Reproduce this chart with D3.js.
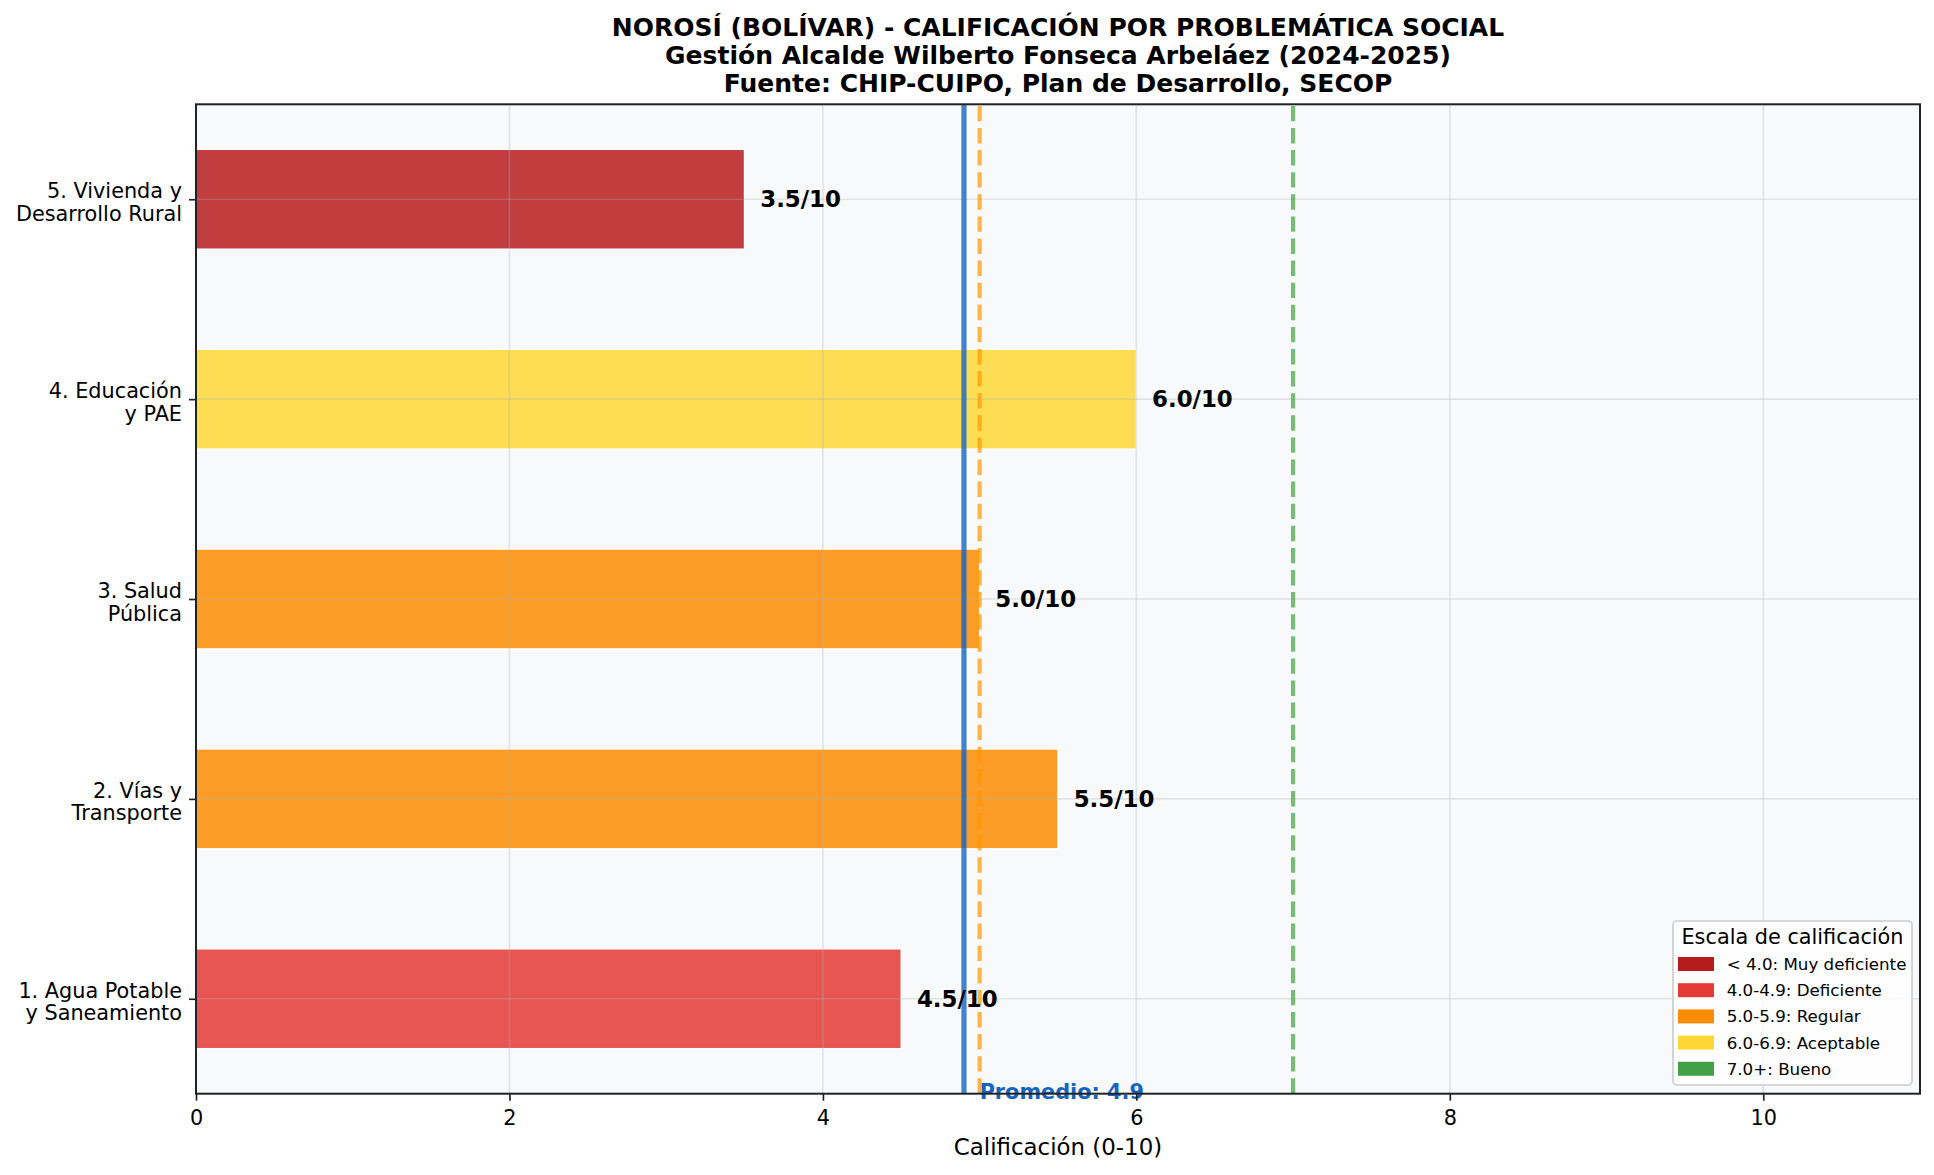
<!DOCTYPE html>
<html>
<head>
<meta charset="utf-8">
<script src="https://cdn.jsdelivr.net/npm/d3@7"></script>
<style>
  html, body { margin: 0; padding: 0; background: #ffffff; }
  svg { display: block; font-family: "DejaVu Sans", sans-serif; }
</style>
</head>
<body>
<svg id="chart" width="1934" height="1175"></svg>
<script>
// ---------------- DATA ----------------
const categories = [
  "1. Agua Potable\ny Saneamiento",
  "2. Vías y\nTransporte",
  "3. Salud\nPública",
  "4. Educación\ny PAE",
  "5. Vivienda y\nDesarrollo Rural"
];
const scores = [4.5, 5.5, 5.0, 6.0, 3.5];
const averageScore = 4.9;
const regularThreshold = 5.0;
const goodThreshold = 7.0;
const xTicks = [0, 2, 4, 6, 8, 10];
const titleLines = [
  "NOROSÍ (BOLÍVAR) - CALIFICACIÓN POR PROBLEMÁTICA SOCIAL",
  "Gestión Alcalde Wilberto Fonseca Arbeláez (2024-2025)",
  "Fuente: CHIP-CUIPO, Plan de Desarrollo, SECOP"
];
const xAxisLabel = "Calificación (0-10)";
const legendTitle = "Escala de calificación";
const legendLabels = ["< 4.0: Muy deficiente", "4.0-4.9: Deficiente", "5.0-5.9: Regular", "6.0-6.9: Aceptable", "7.0+: Bueno"];
const legendColors = ["#b71c1c", "#e53935", "#fb8c00", "#fdd835", "#43a047"];
const scaleBreaks = [4.0, 5.0, 6.0, 7.0];

// ---------------- LAYOUT ----------------
const L = 196, R = 1920, T = 104.3, B = 1093.7;
const svg = d3.select("#chart");
svg.append("rect").attr("width", 1934).attr("height", 1175).attr("fill", "#ffffff");

const x = d3.scaleLinear().domain([0, 11]).range([L, R]);
const y = d3.scaleLinear().domain([-0.475, categories.length - 1 + 0.475]).range([B, T]);
const colorScale = d3.scaleThreshold().domain(scaleBreaks).range(legendColors);
const barH = 0.5;

// axes background
svg.append("rect").attr("x", L).attr("y", T).attr("width", R - L).attr("height", B - T).attr("fill", "#f8f9fa");

// bars
svg.append("g").selectAll("rect").data(scores).join("rect")
  .attr("x", x(0))
  .attr("y", (d, i) => y(i + barH / 2))
  .attr("width", d => x(d) - x(0))
  .attr("height", (d, i) => y(i - barH / 2) - y(i + barH / 2))
  .attr("fill", d => colorScale(d))
  .attr("fill-opacity", 0.85)
  .attr("stroke", "#ffffff")
  .attr("stroke-width", 1.5);

// grid
const grid = svg.append("g");
grid.selectAll("line.gx").data(xTicks).join("line").attr("class", "gx")
  .attr("x1", d => x(d)).attr("x2", d => x(d)).attr("y1", T).attr("y2", B)
  .attr("stroke", "#b0b0b0").attr("stroke-opacity", 0.3).attr("stroke-width", 1.67);
grid.selectAll("line.gy").data(categories).join("line").attr("class", "gy")
  .attr("x1", L).attr("x2", R).attr("y1", (d, i) => y(i)).attr("y2", (d, i) => y(i))
  .attr("stroke", "#b0b0b0").attr("stroke-opacity", 0.3).attr("stroke-width", 1.67);

// reference lines
svg.append("line")
  .attr("x1", x(averageScore)).attr("x2", x(averageScore)).attr("y1", B).attr("y2", T)
  .attr("stroke", "#1565c0").attr("stroke-opacity", 0.8).attr("stroke-width", 5.2);
svg.append("line")
  .attr("x1", x(regularThreshold)).attr("x2", x(regularThreshold)).attr("y1", B).attr("y2", T)
  .attr("stroke", "#ff9800").attr("stroke-opacity", 0.7).attr("stroke-width", 4.2)
  .attr("stroke-dasharray", "15.4,6.7");
svg.append("line")
  .attr("x1", x(goodThreshold)).attr("x2", x(goodThreshold)).attr("y1", B).attr("y2", T)
  .attr("stroke", "#43a047").attr("stroke-opacity", 0.7).attr("stroke-width", 4.2)
  .attr("stroke-dasharray", "15.4,6.7");

// value labels
svg.append("g").selectAll("text").data(scores).join("text")
  .attr("x", d => x(d + 0.1))
  .attr("y", (d, i) => y(i))
  .attr("dy", "0.36em")
  .attr("font-size", 22.9).attr("font-weight", "bold").attr("fill", "#000")
  .text(d => d.toFixed(1) + "/10");

// average label
svg.append("text")
  .attr("x", x(averageScore + 0.1)).attr("y", y(-0.5))
  .attr("font-size", 20.8).attr("font-weight", "bold").attr("fill", "#1565c0")
  .text("Promedio: " + averageScore.toFixed(1));

// spines
svg.append("rect").attr("x", L).attr("y", T).attr("width", R - L).attr("height", B - T)
  .attr("fill", "none").attr("stroke", "#222").attr("stroke-width", 2);

// x axis
const xAxis = svg.append("g").attr("transform", `translate(0,${B})`)
  .call(d3.axisBottom(x).tickValues(xTicks).tickFormat(d3.format("d")).tickSize(7).tickPadding(10).tickSizeOuter(0));
xAxis.select(".domain").remove();
xAxis.selectAll(".tick line").attr("stroke", "#222").attr("stroke-width", 1.67);
xAxis.selectAll(".tick text").attr("font-size", 20.8).attr("font-family", "DejaVu Sans").attr("fill", "#000");

// y axis
const yAxis = svg.append("g").attr("transform", `translate(${L},0)`)
  .call(d3.axisLeft(y).tickValues(d3.range(categories.length)).tickFormat(i => categories[i]).tickSize(7).tickPadding(7).tickSizeOuter(0));
yAxis.select(".domain").remove();
yAxis.selectAll(".tick line").attr("stroke", "#222").attr("stroke-width", 1.67);
yAxis.selectAll(".tick text").each(function(d) {
  const t = d3.select(this);
  const lines = categories[d].split("\n");
  t.text(null).attr("dy", null).attr("font-size", 20.8).attr("font-family", "DejaVu Sans").attr("fill", "#000");
  const x0 = t.attr("x");
  lines.forEach((ln, k) => {
    t.append("tspan").attr("x", x0).attr("y", -1.5 + k * 22.5).text(ln);
  });
});

// x label
svg.append("text").attr("x", (L + R) / 2).attr("y", 1155).attr("text-anchor", "middle")
  .attr("font-size", 22.9).attr("fill", "#000").text(xAxisLabel);

// title
svg.append("g").selectAll("text").data(titleLines).join("text")
  .attr("x", (L + R) / 2).attr("y", (d, i) => 36 + i * 28)
  .attr("text-anchor", "middle").attr("font-size", 25).attr("font-weight", "bold").attr("fill", "#000")
  .text(d => d);

// legend
const lg = svg.append("g");
lg.append("rect").attr("x", 1673).attr("y", 921).attr("width", 239).attr("height", 164).attr("rx", 4)
  .attr("fill", "#ffffff").attr("fill-opacity", 0.8).attr("stroke", "#cccccc").attr("stroke-width", 1.67);
lg.append("text").attr("x", 1792.5).attr("y", 943.5).attr("text-anchor", "middle")
  .attr("font-size", 20.8).attr("fill", "#000").text(legendTitle);
const items = lg.selectAll("g.item").data(legendLabels).join("g").attr("class", "item")
  .attr("transform", (d, i) => `translate(0,${964 + i * 26.2})`);
items.append("rect").attr("x", 1678).attr("y", -7).attr("width", 36).attr("height", 14)
  .attr("fill", (d, i) => legendColors[i]);
items.append("text").attr("x", 1726.7).attr("y", 6).attr("font-size", 16.7).attr("fill", "#000").text(d => d);
</script>
</body>
</html>
